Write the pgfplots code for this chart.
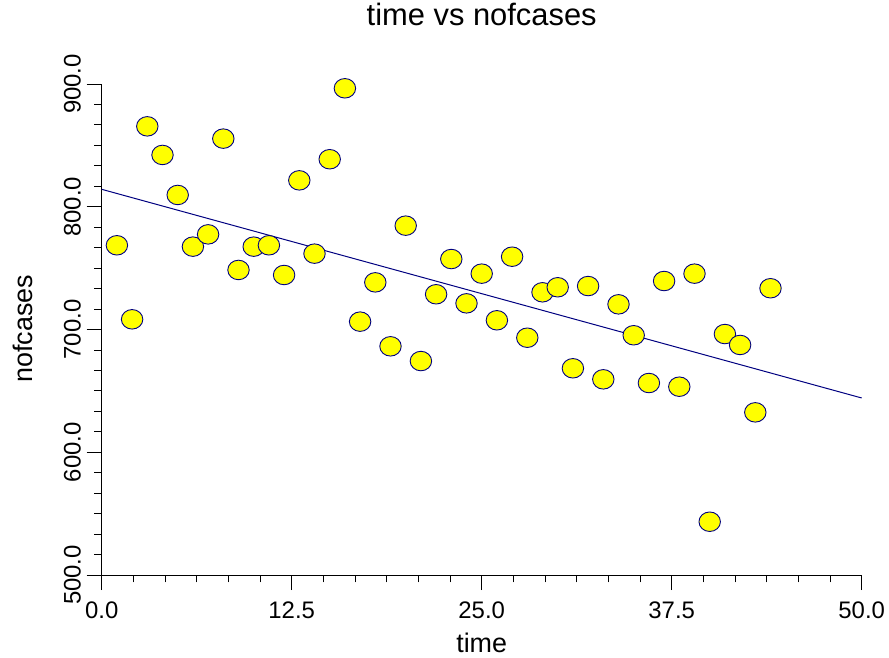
\documentclass[border=0pt]{standalone}
\usepackage{fontspec}
\setmainfont{Liberation Sans}
\usepackage{pgfplots}
\pgfplotsset{compat=1.18}
\definecolor{ptfill}{RGB}{255,255,0}
\definecolor{navyline}{RGB}{0,0,128}

\pgfplotstableread{
t cases
1 768.6
2 708.3
3 865.5
4 842.2
5 809.6
6 767.5
7 777.5
8 855.5
9 748.5
10 767.5
11 768.6
12 744.4
13 821.5
14 761.8
15 838.7
16 896.5
17 706.4
18 738.4
19 686.3
20 784.6
21 674.3
22 728.7
23 757.4
24 721.3
25 745.5
26 707.5
27 759.3
28 693.3
29 730.3
30 734.4
31 668.4
32 735.4
33 659.4
34 720.5
35 695.3
36 656.4
37 739.5
38 653.4
39 745.5
40 543.4
41 696.3
42 687.4
43 632.5
44 733.6
}\casesdata

\begin{document}
\begin{tikzpicture}
\useasboundingbox (0,0) rectangle (889bp,658bp);
\begin{axis}[
  at={(101.7bp,83bp)}, anchor=south west,
  scale only axis, width=760bp, height=491bp,
  xmin=0, xmax=50, ymin=500, ymax=900,
  axis lines=left, axis line style={-, line width=0.9bp},
  xtick={0,12.5,25,37.5,50}, ytick={500,600,700,800,900},
  minor tick num=5,
  tick align=outside,
  major tick length=15bp, minor tick length=7.3bp,
  tick style={black, line width=0.9bp},
  /pgf/number format/assume math mode=true,
  /pgf/number format/.cd, fixed, fixed zerofill, precision=1, /pgfplots/.cd,
  ticklabel style={font=\fontsize{24}{28}\selectfont, inner sep=0pt},
  xticklabel style={anchor=base, yshift=-28.3bp},
  yticklabel style={xshift=-6bp, rotate=90, anchor=base},
  title={time vs nofcases},
  title style={at={(axis description cs:0.5,1.106)}, anchor=base, inner sep=0pt,
    font=\fontsize{31}{36}\selectfont},
  xlabel={time},
  xlabel style={at={(axis description cs:0.5,-0.158)}, anchor=base, inner sep=0pt,
    font=\fontsize{27}{32}\selectfont},
  ylabel={nofcases},
  ylabel style={at={(axis description cs:-0.0908,0.5016)}, anchor=base, inner sep=0pt,
    font=\fontsize{27}{32}\selectfont},
  clip=false,
]
\addplot[only marks, mark=*, mark size=9.8pt,
  mark options={xscale=1.1, fill=ptfill, draw=navyline, line width=0.9bp}]
  table[x=t, y=cases] {\casesdata};
\addplot[navyline, line width=1bp] coordinates {(0,814.2) (50,644.2)};
\end{axis}
\end{tikzpicture}
\end{document}
